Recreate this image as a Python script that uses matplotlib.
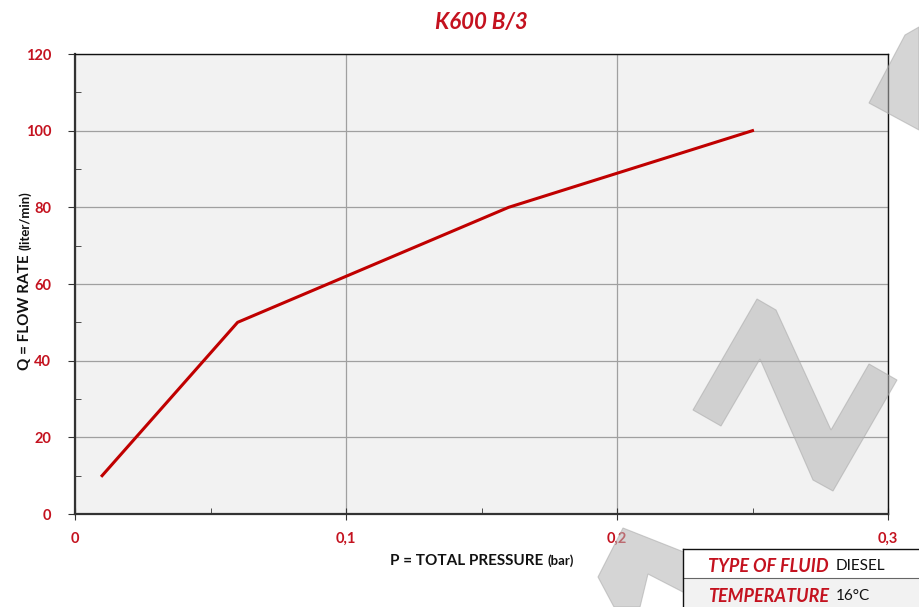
import matplotlib.pyplot as plt
from matplotlib.patches import Polygon, Rectangle
from matplotlib.ticker import MultipleLocator, FuncFormatter

pressure = [0.01, 0.06, 0.16, 0.25]
flow = [10, 50, 80, 100]
x_ticks = [0, 0.1, 0.2, 0.3]
y_ticks = [0, 20, 40, 60, 80, 100, 120]

RED = '#c4121f'
LINE = '#c00000'
W, H = 919, 607

plt.rcParams['font.family'] = ['Lato', 'DejaVu Sans']
plt.rcParams['font.weight'] = 'bold'


def fx(px):
    return px / W


def fy(py):
    return 1 - py / H


fig = plt.figure(figsize=(W / 100, H / 100), dpi=100)
ax = fig.add_axes([fx(75), fy(514), fx(888) - fx(75), fy(54) - fy(514)])
ax.set_facecolor('#f2f2f2')

ax.plot(pressure, flow, color=LINE, lw=2.2, zorder=3)

ax.set_xlim(0, 0.3)
ax.set_ylim(0, 120)
ax.set_xticks(x_ticks)
ax.set_yticks(y_ticks)
ax.xaxis.set_minor_locator(MultipleLocator(0.05))
ax.yaxis.set_minor_locator(MultipleLocator(10))
ax.xaxis.set_major_formatter(FuncFormatter(lambda v, p: '0' if v == 0 else f'{v:.1f}'.replace('.', ',')))
ax.grid(which='major', color='#a0a0a0', lw=0.9)
ax.tick_params(which='major', direction='out', length=5, colors='#333333',
               labelcolor=RED, labelsize=10.5)
ax.tick_params(axis='x', which='major', direction='inout', length=8, pad=9)
ax.tick_params(which='minor', direction='in', length=4, colors='#333333')
ax.tick_params(axis='y', pad=12)

for s in ['left', 'bottom']:
    ax.spines[s].set_linewidth(1.6)
    ax.spines[s].set_color('#333333')
for s in ['top', 'right']:
    ax.spines[s].set_linewidth(1.0)
    ax.spines[s].set_color('#111111')

# title
fig.text(fx(481), fy(22), 'K600 B/3', color=RED, fontsize=16, fontweight='bold',
         fontstyle='italic', ha='center', va='center')

# axis labels, main part plus smaller unit part placed right after it
fig.canvas.draw()
rend = fig.canvas.get_renderer()
xl = fig.text(fx(390), fy(565), 'P = TOTAL PRESSURE', fontsize=11, color='#111111',
              ha='left', va='baseline')
bb = xl.get_window_extent(rend)
fig.text(fx(bb.x1 + 4), fy(565), '(bar)', fontsize=9.5, color='#111111',
         ha='left', va='baseline')
yl = fig.text(fx(32), fy(370), 'Q = FLOW RATE', fontsize=11, color='#111111', rotation=90,
              ha='right', va='bottom', rotation_mode='default')
bb = yl.get_window_extent(rend)
fig.text(fx(32), (bb.y1 + 4) / H, '(liter/min)', fontsize=9.5, color='#111111', rotation=90,
         ha='right', va='bottom')

# watermark shapes
zigzag = [(693, 410), (757, 299), (776, 310), (831, 430), (869, 364), (897, 380),
          (833, 491), (813, 480), (760, 359), (721, 426)]
top_shape = [(869, 103), (905, 35), (919, 27), (919, 130)]
bottom_shape = [(623, 528), (775, 588), (775, 607), (712, 607), (648, 574),
                (640, 607), (614, 607), (598, 577)]
for shp in [zigzag, top_shape, bottom_shape]:
    fig.patches.append(Polygon([(fx(a), fy(b)) for a, b in shp], closed=True,
                               transform=fig.transFigure, facecolor='#b4b4b4',
                               edgecolor='#a8a8a8', lw=0.8, alpha=0.55, zorder=5))

# fluid info table
fig.patches.append(Rectangle((fx(683), fy(607)), fx(919) - fx(683), fy(578) - fy(607),
                             transform=fig.transFigure, facecolor='#f2f2f2',
                             edgecolor='none', zorder=6))
fig.patches.append(Rectangle((fx(683), fy(578)), fx(919) - fx(683), fy(549) - fy(578),
                             transform=fig.transFigure, facecolor='white',
                             edgecolor='none', zorder=6))
fig.add_artist(plt.Line2D([fx(683), fx(919)], [fy(549), fy(549)], color='#111111', lw=1.0, zorder=7))
fig.add_artist(plt.Line2D([fx(683), fx(919)], [fy(578), fy(578)], color='#666666', lw=0.8, zorder=7))
fig.add_artist(plt.Line2D([fx(683), fx(683)], [fy(549), fy(607)], color='#111111', lw=1.0, zorder=7))

rows = [('TYPE OF FLUID', 'DIESEL', 566), ('TEMPERATURE', '16°C', 596)]
for key, val, yy in rows:
    fig.text(fx(829), fy(yy), key, color=RED, fontsize=13, fontweight='bold',
             fontstyle='italic', ha='right', va='center', zorder=8)
    fig.text(fx(836), fy(yy), val, color='#111111', fontsize=11, fontweight='normal',
             ha='left', va='center', zorder=8)

fig.savefig('out.png', dpi=100)
